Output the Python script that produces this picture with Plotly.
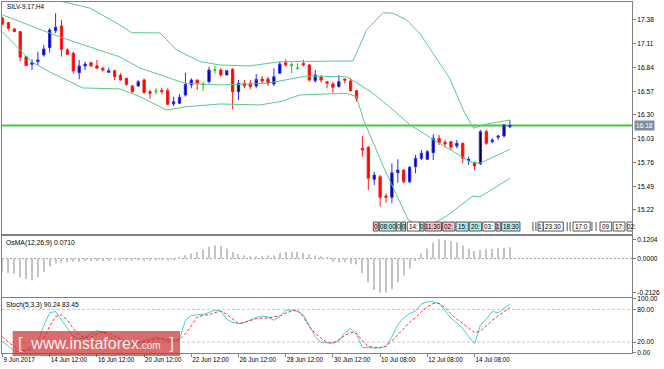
import plotly.graph_objects as go

# ---------------- data ----------------
bars = list(range(87))
opens = [17.399, 17.349, 17.277, 17.247, 16.962, 16.876, 16.906, 16.982, 17.065, 17.258,
         17.312, 17.039, 17.001, 16.780, 16.857, 16.894, 16.860, 16.831, 16.785, 16.803,
         16.751, 16.717, 16.629, 16.629, 16.697, 16.564, 16.572, 16.580, 16.576, 16.425,
         16.433, 16.527, 16.641, 16.697, 16.648, 16.678, 16.811, 16.811, 16.754, 16.819,
         16.564, 16.660, 16.660, 16.629, 16.709, 16.709, 16.652, 16.774, 16.894, 16.868,
         16.831, 16.887, 16.868, 16.689, 16.735, 16.678, 16.652, 16.621, 16.709, 16.686,
         16.576, 15.921, 15.932, 15.568, 15.598, 15.379, 15.364, 15.643, 15.674, 15.541,
         15.712, 15.808, 15.796, 15.871, 16.035, 15.990, 15.996, 15.947, 15.978, 15.780,
         15.758, 15.743, 16.110, 15.996, 16.046, 16.061, 16.165]
highs = [17.414, 17.357, 17.289, 17.255, 16.970, 16.933, 17.019, 17.095, 17.285, 17.456,
         17.380, 17.058, 17.019, 16.925, 16.906, 16.906, 16.925, 16.849, 16.837, 16.811,
         16.774, 16.720, 16.641, 16.697, 16.717, 16.584, 16.603, 16.610, 16.603, 16.508,
         16.538, 16.780, 16.717, 16.705, 16.678, 16.849, 16.857, 16.831, 16.811, 16.831,
         16.697, 16.697, 16.697, 16.766, 16.743, 16.735, 16.831, 16.906, 16.933, 16.894,
         16.887, 16.925, 16.879, 16.811, 16.754, 16.680, 16.678, 16.754, 16.712, 16.717,
         16.584, 16.061, 15.947, 15.655, 15.617, 15.409, 15.750, 15.796, 15.682, 15.720,
         15.845, 15.902, 15.902, 16.080, 16.072, 16.016, 16.000, 16.016, 15.985, 15.826,
         15.769, 16.129, 16.129, 16.035, 16.072, 16.198, 16.243]
lows = [17.323, 17.258, 17.243, 16.906, 16.857, 16.811, 16.868, 16.962, 17.008, 17.228,
        16.962, 16.982, 16.774, 16.705, 16.811, 16.849, 16.823, 16.792, 16.780, 16.697,
        16.689, 16.629, 16.553, 16.621, 16.546, 16.485, 16.535, 16.535, 16.413, 16.402,
        16.425, 16.508, 16.603, 16.584, 16.576, 16.660, 16.774, 16.735, 16.754, 16.364,
        16.470, 16.603, 16.592, 16.603, 16.660, 16.629, 16.629, 16.766, 16.849, 16.774,
        16.819, 16.849, 16.678, 16.667, 16.667, 16.603, 16.553, 16.614, 16.660, 16.564,
        16.451, 15.826, 15.447, 15.504, 15.257, 15.302, 15.296, 15.530, 15.523, 15.523,
        15.637, 15.788, 15.796, 15.788, 15.959, 15.932, 15.902, 15.921, 15.750, 15.731,
        15.674, 15.731, 15.959, 15.978, 16.016, 16.046, 16.150]
closes = [17.334, 17.285, 17.247, 16.956, 16.860, 16.894, 16.925, 17.050, 17.266, 17.297,
          17.047, 16.990, 16.800, 16.857, 16.879, 16.857, 16.831, 16.811, 16.803, 16.735,
          16.697, 16.648, 16.564, 16.678, 16.553, 16.546, 16.572, 16.564, 16.421, 16.451,
          16.501, 16.648, 16.697, 16.660, 16.648, 16.811, 16.811, 16.754, 16.803, 16.564,
          16.660, 16.629, 16.621, 16.705, 16.686, 16.660, 16.735, 16.879, 16.868, 16.868,
          16.831, 16.868, 16.697, 16.754, 16.697, 16.660, 16.614, 16.678, 16.697, 16.576,
          16.489, 15.902, 15.580, 15.617, 15.364, 15.364, 15.643, 15.674, 15.541, 15.705,
          15.808, 15.864, 15.883, 16.035, 15.985, 15.970, 15.932, 15.978, 15.808, 15.796,
          15.720, 16.110, 15.978, 16.016, 16.061, 16.186, 16.180]
current_price = 16.18

bb_upper_x = [0, 9.7, 14.8, 19.9, 21.9, 26.7, 29.5, 33.5, 36.9, 41.9, 47, 55, 59.4,
              61.7, 64.5, 66.2, 68.5, 70.8, 75.8, 78.1, 79.8, 82.1, 86]
bb_upper = [17.80, 17.595, 17.515, 17.323, 17.236, 17.232, 17.039, 16.906, 16.868,
            16.857, 16.906, 16.906, 16.914, 17.266, 17.463, 17.456, 17.380, 17.220, 16.717,
            16.357, 16.149, 16.198, 16.243]
bb_mid_x = [0, 5, 9.7, 14.8, 19.9, 23.3, 30.9, 36.9, 44.8, 51.6, 58.3, 60, 62.8, 66.2,
            69.1, 72.7, 79.2, 80.9, 86]
bb_mid = [17.437, 17.312, 17.187, 17.073, 16.959, 16.834, 16.660, 16.641, 16.660, 16.743,
          16.735, 16.667, 16.547, 16.357, 16.186, 16.035, 15.769, 15.751, 15.910]
bb_low_x = [0, 5, 8, 13.6, 19.9, 23.3, 27.8, 31.2, 36.9, 43.6, 47, 50.4, 58.3, 60, 61.2,
            64.8, 68.8, 71.6, 75.3, 79.7, 80.9, 86]
bb_low = [17.244, 16.902, 16.789, 16.607, 16.596, 16.508, 16.357, 16.394, 16.425, 16.414,
          16.451, 16.527, 16.547, 16.508, 16.243, 15.675, 15.106, 15.015, 15.152, 15.379,
          15.368, 15.580]

osma = [-0.080, -0.090, -0.095, -0.116, -0.127, -0.137, -0.116, -0.084, -0.049, -0.030,
        -0.025, -0.022, -0.020, -0.020, -0.017, -0.015, -0.015, -0.015, -0.014, -0.012,
        -0.012, -0.012, -0.013, -0.012, -0.012, -0.012, -0.010, -0.010, -0.012, -0.008,
        0.005, 0.021, 0.032, 0.042, 0.057, 0.074, 0.084, 0.078, 0.063, 0.042,
        0.027, 0.021, 0.015, 0.015, 0.017, 0.019, 0.021, 0.036, 0.042, 0.042,
        0.042, 0.036, 0.027, 0.019, 0.015, 0.010, -0.021, -0.025, -0.021, -0.032,
        -0.036, -0.090, -0.148, -0.196, -0.2126, -0.211, -0.190, -0.148, -0.105, -0.063,
        -0.015, 0.032, 0.063, 0.100, 0.1204, 0.118, 0.108, 0.100, 0.080, 0.062,
        0.048, 0.055, 0.057, 0.060, 0.064, 0.068, 0.0710]

stoch_main = [21, 12, 4, 2, 5, 12, 22, 50, 74, 76,
              60, 45, 30, 25, 28, 35, 41, 38, 30, 24,
              20, 18, 15, 20, 22, 25, 28, 26, 20, 22,
              25, 60, 69, 70, 71, 74, 79, 77, 62, 56,
              54, 56, 61, 65, 68, 66, 60, 67, 78, 79,
              76, 70, 50, 30, 19, 19, 18, 22, 37, 45,
              34, 10, 9, 9, 9, 12, 30, 52, 65, 72,
              77, 90, 94, 94, 91, 78, 64, 55, 45, 30,
              17, 51, 62, 76, 74, 82, 90.24]
stoch_signal = [30, 19, 12, 6, 4, 7, 13, 28, 49, 67,
                70, 60, 45, 33, 28, 29, 35, 38, 36, 31,
                25, 21, 18, 18, 19, 22, 25, 26, 25, 23,
                24, 35, 50, 66, 69, 70, 74, 77, 71, 62,
                54, 56, 59, 63, 64, 64, 66, 68, 73, 77,
                79, 66, 48, 36, 27, 19, 18, 24, 32, 38,
                36, 22, 12, 10, 10, 12, 22, 34, 45, 56,
                65, 76, 85, 91, 91, 83, 72, 62, 54, 45,
                37, 40, 50, 60, 68, 76, 83.45]

tick_bars = [0, 8, 16, 24, 32, 40, 48, 56, 64, 72, 80]
tick_text = ["9 Jun 2017", "14 Jun 12:00", "16 Jun 12:00", "20 Jun 12:00", "22 Jun 12:00",
             "26 Jun 12:00", "28 Jun 12:00", "30 Jun 12:00", "10 Jul 08:00", "12 Jul 08:00",
             "14 Jul 08:00"]
price_ticks = [17.38, 17.11, 16.84, 16.57, 16.30, 16.03, 15.76, 15.49, 15.22]
osma_ticks = [0.1204, 0.0, -0.2126]
stoch_ticks = [100, 80, 20, 0]

session_labels = ["0", "08:00", "0", "0", "14:", "0", "11:30", "02:", "15:", "20:", "03:",
                  "1", "18:30", "1:", "23:30", "17:0", "09", "17:", "02:"]

# ---------------- layout constants ----------------
W, H = 664, 369
FONT = "Liberation Sans, Arial, sans-serif"
def py(px):
    return 1 - px / H

PINK, CYAN, WHITE = "#ffbcc6", "#aeeef2", "#ffffff"
box_pos = [(62.85, 63.7, PINK), (63.86, 66.7, CYAN), (66.8, 67.5, WHITE), (67.66, 68.3, CYAN),
           (68.6, 70.76, WHITE), (70.76, 71.44, CYAN), (71.6, 74.4, PINK), (74.6, 76.7, PINK),
           (76.86, 78.95, CYAN), (79.1, 81.2, CYAN), (81.4, 83.5, WHITE), (83.64, 84.44, PINK),
           (84.6, 87.7, CYAN), (90.76, 91.66, WHITE), (91.66, 95.05, WHITE), (96.7, 99.6, WHITE),
           (101.27, 103.25, WHITE), (103.5, 105.5, WHITE), (105.85, 107.5, WHITE)]
sep_marks = [89.9, 90.4, 95.7, 96.2, 99.9, 100.6]

fig = go.Figure()

doji_idx = [i for i in bars if opens[i] == closes[i]]
body_idx = [i for i in bars if opens[i] != closes[i]]

fig.add_trace(go.Candlestick(
    x=[bars[i] for i in body_idx], open=[opens[i] for i in body_idx],
    high=[highs[i] for i in body_idx], low=[lows[i] for i in body_idx],
    close=[closes[i] for i in body_idx],
    increasing=dict(line=dict(color="#2b2bff", width=1), fillcolor="#000033"),
    decreasing=dict(line=dict(color="#ff1a1a", width=1), fillcolor="#ff0000"),
    whiskerwidth=0, xaxis="x", yaxis="y", hoverinfo="skip", showlegend=False))
fig.add_trace(go.Candlestick(
    x=[bars[i] for i in doji_idx], open=[opens[i] for i in doji_idx],
    high=[highs[i] for i in doji_idx], low=[lows[i] for i in doji_idx],
    close=[closes[i] for i in doji_idx],
    increasing=dict(line=dict(color="#00d400", width=1), fillcolor="#00d400"),
    decreasing=dict(line=dict(color="#00d400", width=1), fillcolor="#00d400"),
    whiskerwidth=0, xaxis="x", yaxis="y", hoverinfo="skip", showlegend=False))

band_color = "#5cc98c"
for bx, by in [(bb_upper_x, bb_upper), (bb_mid_x, bb_mid), (bb_low_x, bb_low)]:
    fig.add_trace(go.Scatter(x=bx, y=by, mode="lines", line=dict(color=band_color, width=1),
                             xaxis="x", yaxis="y", hoverinfo="skip", showlegend=False))

fig.add_trace(go.Bar(x=bars, y=osma, width=0.18, marker=dict(color="#c4c4c4", line=dict(width=0)),
                     xaxis="x2", yaxis="y2", hoverinfo="skip", showlegend=False))

fig.add_trace(go.Scatter(x=bars, y=stoch_main, mode="lines", line=dict(color="#3fd3c6", width=1),
                         xaxis="x3", yaxis="y3", hoverinfo="skip", showlegend=False))
fig.add_trace(go.Scatter(x=bars, y=stoch_signal, mode="lines",
                         line=dict(color="#ff3030", width=1, dash="3px,2px"),
                         xaxis="x3", yaxis="y3", hoverinfo="skip", showlegend=False))

xr = [-0.085, 106.69]
xdom = [2 / W, 632 / W]
axis_common = dict(showline=True, mirror=True, linecolor="#808080", linewidth=1,
                   showgrid=False, zeroline=False)
tickfont = dict(family=FONT, size=6.6, color="#000000")
xtickfont = dict(family=FONT, size=6.3, color="#000000")

fig.update_layout(
    width=W, height=H, template="none",
    margin=dict(l=0, r=0, t=0, b=0),
    paper_bgcolor="white", plot_bgcolor="white",
    hovermode=False, showlegend=False, boxgap=0.45,
    xaxis=dict(domain=xdom, range=xr, anchor="y", showticklabels=False, ticks="",
               rangeslider=dict(visible=False), **axis_common),
    xaxis2=dict(domain=xdom, range=xr, anchor="y2", matches="x", showticklabels=False,
                ticks="", **axis_common),
    xaxis3=dict(domain=xdom, range=xr, anchor="y3", matches="x", tickmode="array",
                tickvals=tick_bars, ticktext=tick_text, ticks="outside", ticklen=3,
                tickcolor="#808080", ticklabelposition="outside right", tickangle=0,
                tickfont=xtickfont, **axis_common),
    yaxis=dict(domain=[py(234), py(2)], range=[14.947, 17.584], side="right", anchor="x",
               tickmode="array", tickvals=price_ticks,
               ticktext=[f"{v:.2f}" for v in price_ticks], ticks="outside", ticklen=3,
               tickcolor="#808080", tickfont=tickfont, **axis_common),
    yaxis2=dict(domain=[py(297), py(236)], range=[-0.2394, 0.141], side="right", anchor="x2",
                tickmode="array", tickvals=osma_ticks,
                ticktext=[f"{v:.4f}" for v in osma_ticks], ticks="outside", ticklen=3,
                tickcolor="#808080", tickfont=tickfont, **axis_common),
    yaxis3=dict(domain=[py(353.3), py(298.3)], range=[-0.8, 100.4], side="right", anchor="x3",
                tickmode="array", tickvals=stoch_ticks,
                ticktext=[f"{v:.2f}" for v in stoch_ticks], ticks="outside", ticklen=3,
                tickcolor="#808080", tickfont=tickfont, **axis_common),
)

shapes = []
shapes.append(dict(type="line", xref="x domain", yref="y", x0=0, x1=1, y0=current_price,
                   y1=current_price, line=dict(color="#3ccf3c", width=2), layer="below"))
shapes.append(dict(type="line", xref="x2 domain", yref="y2", x0=0, x1=1, y0=0, y1=0,
                   line=dict(color="#8a9bb5", width=1, dash="2px,2px"), layer="below"))
for lv in [80, 20]:
    shapes.append(dict(type="line", xref="x3 domain", yref="y3", x0=0, x1=1, y0=lv, y1=lv,
                       line=dict(color="#c8c8c8", width=1, dash="3px,2px"), layer="below"))
box_y0, box_y1 = 14.981, 15.083
for (x0, x1, col) in box_pos:
    shapes.append(dict(type="rect", xref="x", yref="y", x0=x0, x1=x1, y0=box_y0, y1=box_y1,
                       fillcolor=col, line=dict(color="#555555", width=1), layer="above"))
for xm in sep_marks:
    shapes.append(dict(type="line", xref="x", yref="y", x0=xm, x1=xm, y0=box_y0, y1=box_y1,
                       line=dict(color="#555555", width=1), layer="above"))
shapes.append(dict(type="rect", xref="paper", yref="paper", x0=12.7 / W, x1=180 / W,
                   y0=py(356), y1=py(331), fillcolor="rgba(204,45,45,0.70)",
                   line=dict(width=0), layer="above"))
fig.update_layout(shapes=shapes)

ann = []
for (x0, x1, col), txt in zip(box_pos, session_labels):
    ann.append(dict(x=(x0 + x1) / 2, y=(box_y0 + box_y1) / 2, xref="x", yref="y", text=txt,
                    showarrow=False, font=dict(family=FONT, size=6.3, color="#000000"),
                    xanchor="center", yanchor="middle"))
ann.append(dict(x=5 / W, y=py(6.5), xref="paper", yref="paper", text="SILV-9.17,H4",
                showarrow=False, xanchor="left", yanchor="middle",
                font=dict(family=FONT, size=6.3, color="#000000")))
ann.append(dict(x=4 / W, y=py(242.5), xref="paper", yref="paper", text="OsMA(12,26,9) 0.0710",
                showarrow=False, xanchor="left", yanchor="middle",
                font=dict(family=FONT, size=6.8, color="#000000")))
ann.append(dict(x=4 / W, y=py(305), xref="paper", yref="paper",
                text="Stoch(5,3,3) 90.24 83.45", showarrow=False, xanchor="left",
                yanchor="middle", font=dict(family=FONT, size=6.6, color="#000000")))
ann.append(dict(x=634 / W, y=current_price, xref="paper", yref="y", text="16.18",
                showarrow=False, xanchor="left", yanchor="middle", bgcolor="#7f8d9b",
                borderpad=1, font=dict(family=FONT, size=6.6, color="#ffffff")))
ann.append(dict(x=96 / W, y=py(343.5), xref="paper", yref="paper",
                text="[&nbsp;&nbsp;www.instaforex<span style='font-size:10px'>.com</span>&nbsp;&nbsp;]",
                showarrow=False, xanchor="center", yanchor="middle",
                font=dict(family=FONT, size=16, color="rgba(255,255,255,0.92)")))
fig.update_layout(annotations=ann)

fig.write_html("out.html", config={"displayModeBar": False},
               post_script="document.body.style.margin='0';document.body.style.padding='0';")
